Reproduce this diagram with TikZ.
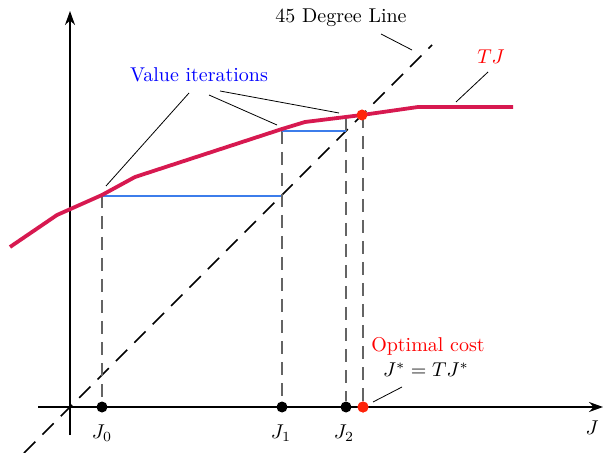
\documentclass[tikz,border=0pt]{standalone}
\usetikzlibrary{arrows.meta}
\definecolor{curvecol}{RGB}{215,25,80}
\definecolor{itercol}{RGB}{60,125,235}
\definecolor{dotred}{RGB}{255,35,10}
\definecolor{dashgray}{RGB}{100,100,100}
\begin{document}
\begin{tikzpicture}[x=0.5pt,y=-0.5pt,
  axis/.style={line width=0.9pt,-{Stealth[length=7pt,width=5pt]}},
  curve/.style={line width=1.9pt,curvecol},
  iter/.style={line width=0.75pt,itercol},
  vdash/.style={line width=0.75pt,dashgray,dash pattern=on 6.5pt off 4pt},
  diag/.style={line width=0.75pt,dash pattern=on 8pt off 5pt},
  lead/.style={line width=0.4pt},
  blackdot/.style={circle,fill=black,inner sep=0pt,minimum size=5.5pt},
  reddot/.style={circle,fill=dotred,inner sep=0pt,minimum size=5.5pt},
  lbl/.style={inner sep=1pt}]
\useasboundingbox (0,0) rectangle (603,453);
% axes
\coordinate (xs) at (38,407);
\coordinate (xe) at (603,407);
\coordinate (ys) at (70,435);
\coordinate (ye) at (70,11);
\draw[axis] (xs) -- (xe);
\draw[axis] (ys) -- (ye);
% 45 degree line
\coordinate (d0) at (24,453);
\coordinate (d1) at (432,45);
\draw[diag] (d0) -- (d1);
% points
\coordinate (c0) at (10,247);
\coordinate (c1) at (57,215);
\coordinate (p0) at (102,195);
\coordinate (c3) at (135,177);
\coordinate (p1) at (282,129);
\coordinate (c5) at (305,122);
\coordinate (p2) at (346,118);
\coordinate (pstar) at (362,115);
\coordinate (c7) at (418,107);
\coordinate (c8) at (513,107);
% dots on axis
\node[blackdot] (J0) at (102,407) {};
\node[blackdot] (J1) at (282,407) {};
\node[blackdot] (J2) at (346,407) {};
\node[reddot] (Jstar) at (363,407) {};
% vertical dashed
\draw[vdash] (p0) -- (J0);
\draw[vdash] (282,131) -- (J1);
\draw[vdash] (p2) -- (J2);
\draw[vdash] (Jstar |- pstar) -- (Jstar);
% iteration lines
\coordinate (b0) at (102,196);
\coordinate (b1) at (281,196);
\coordinate (b2) at (282,131);
\coordinate (b3) at (346,131);
\draw[iter] (b0) -- (b1);
\draw[iter] (b2) -- (b3);
% TJ curve
\draw[curve,line join=round] (c0) -- (c1) -- (p0) -- (c3) -- (p1) -- (c5) -- (pstar) -- (c7) -- (c8);
\node[reddot] (fix) at (pstar) {};
\node[reddot] at (Jstar) {};
% labels
\node[lbl] (L45) at (341,18) {45 Degree Line};
\coordinate (l45a) at (381,34);
\coordinate (l45b) at (412,50);
\draw[lead] (l45a) -- (l45b);
\node[lbl,text=blue] (VI) at (199,75) {Value iterations};
\coordinate (v0a) at (189,93);
\coordinate (v0b) at (106,186);
\coordinate (v1a) at (209,95);
\coordinate (v1b) at (277,125);
\coordinate (v2a) at (220,91);
\coordinate (v2b) at (339,113);
\draw[lead] (v0a) -- (v0b);
\draw[lead] (v1a) -- (v1b);
\draw[lead] (v2a) -- (v2b);
\node[lbl,text=red] (TJ) at (491,57) {$TJ$};
\coordinate (tja) at (488,72);
\coordinate (tjb) at (456,102);
\draw[lead] (tja) -- (tjb);
\node[lbl,text=red] (OC) at (428,346) {Optimal cost};
\node[lbl] (FP) at (426,370) {$J^{*}=TJ^{*}$};
\coordinate (fpa) at (402,387);
\coordinate (fpb) at (373,402);
\draw[lead] (fpa) -- (fpb);
\node[lbl] (tJ0) at (102,433) {$J_0$};
\node[lbl] (tJ1) at (281,433) {$J_1$};
\node[lbl] (tJ2) at (344,433) {$J_2$};
\node[lbl] (tJ) at (592,428) {$J$};
\end{tikzpicture}
\end{document}
